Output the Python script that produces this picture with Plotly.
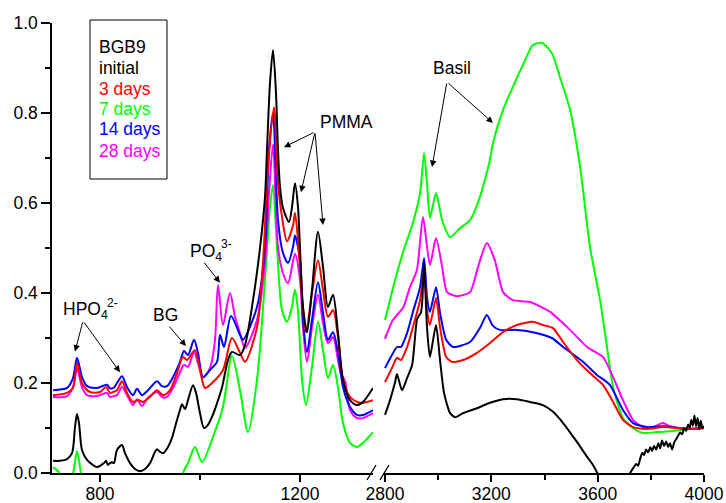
import plotly.graph_objects as go

# ---------------- spectra: fingerprint region (cm-1) ----------------
wn_init_lo = [706, 720, 734, 744, 750, 754, 758, 764, 774, 794, 800, 808, 812, 816, 820, 824, 828, 834, 844, 850,
              860, 870, 880, 890, 900, 910, 914, 920, 926, 936, 944, 952, 960, 964, 970, 976, 986, 992, 1000, 1008,
              1016, 1026, 1034, 1044, 1056, 1064, 1080, 1090, 1106, 1120, 1130, 1134, 1140, 1146, 1152, 1156, 1160,
              1166, 1178, 1184, 1190, 1196, 1200, 1206, 1214, 1224, 1236, 1246, 1256, 1266, 1276, 1286, 1300, 1314,
              1326, 1346]
ab_init_lo = [0.027, 0.027, 0.031, 0.044, 0.102, 0.131, 0.111, 0.051, 0.029, 0.013, 0.016, 0.022, 0.027, 0.018, 0.022,
              0.024, 0.022, 0.051, 0.062, 0.044, 0.022, 0.009, 0.004, 0.009, 0.022, 0.047, 0.053, 0.047, 0.044, 0.058,
              0.078, 0.110, 0.140, 0.153, 0.142, 0.162, 0.195, 0.178, 0.133, 0.100, 0.107, 0.130, 0.155, 0.190, 0.251,
              0.269, 0.262, 0.284, 0.384, 0.500, 0.613, 0.718, 0.867, 0.940, 0.844, 0.718, 0.636, 0.589, 0.558, 0.591,
              0.644, 0.591, 0.500, 0.369, 0.313, 0.407, 0.536, 0.458, 0.369, 0.396, 0.311, 0.207, 0.162, 0.151, 0.158,
              0.189]

wn_3d_lo = [706, 734, 746, 754, 764, 780, 800, 812, 820, 826, 834, 844, 854, 866, 876, 886, 900, 914, 926, 940, 954,
            966, 974, 990, 1000, 1010, 1026, 1046, 1064, 1080, 1090, 1114, 1126, 1136, 1148, 1156, 1164, 1174, 1186,
            1190, 1196, 1204, 1212, 1224, 1236, 1246, 1256, 1266, 1276, 1286, 1300, 1320, 1346]
ab_3d_lo = [0.173, 0.178, 0.189, 0.245, 0.200, 0.180, 0.180, 0.191, 0.178, 0.180, 0.184, 0.204, 0.178, 0.158, 0.162,
            0.158, 0.169, 0.184, 0.173, 0.184, 0.222, 0.258, 0.251, 0.273, 0.229, 0.189, 0.202, 0.229, 0.300, 0.267,
            0.247, 0.324, 0.467, 0.680, 0.813, 0.644, 0.569, 0.515, 0.550, 0.578, 0.518, 0.391, 0.313, 0.400, 0.473,
            0.407, 0.347, 0.362, 0.302, 0.207, 0.169, 0.156, 0.162]

wn_7d_lo = [706, 716, 726, 740, 746, 754, 762, 770, 780, 820, 880, 940, 964, 970, 976, 990, 1004, 1026, 1046, 1064,
            1080, 1096, 1114, 1130, 1140, 1146, 1154, 1164, 1174, 1184, 1190, 1196, 1204, 1212, 1224, 1236, 1246,
            1256, 1266, 1276, 1286, 1300, 1314, 1326, 1346]
ab_7d_lo = [0.013, 0.004, -0.010, -0.010, 0.000, 0.049, 0.000, -0.030, -0.050, -0.080, -0.100, -0.050, -0.005, 0.010,
            0.022, 0.058, 0.024, 0.080, 0.147, 0.260, 0.184, 0.091, 0.207, 0.429, 0.590, 0.640, 0.502, 0.362, 0.336,
            0.370, 0.407, 0.360, 0.207, 0.151, 0.236, 0.336, 0.273, 0.211, 0.240, 0.190, 0.111, 0.067, 0.058, 0.067,
            0.091]

wn_14d_lo = [706, 734, 746, 754, 764, 774, 794, 814, 820, 828, 834, 844, 854, 866, 874, 884, 896, 914, 924, 934, 946,
             960, 968, 976, 988, 996, 1006, 1020, 1034, 1040, 1048, 1062, 1080, 1086, 1114, 1130, 1138, 1146, 1156,
             1166, 1176, 1186, 1190, 1200, 1206, 1214, 1224, 1236, 1246, 1256, 1266, 1276, 1286, 1300, 1314, 1326,
             1346]
ab_14d_lo = [0.184, 0.189, 0.211, 0.256, 0.213, 0.193, 0.189, 0.196, 0.188, 0.190, 0.200, 0.215, 0.191, 0.173, 0.187,
             0.173, 0.184, 0.204, 0.193, 0.193, 0.213, 0.247, 0.271, 0.262, 0.296, 0.267, 0.213, 0.229, 0.247, 0.307,
             0.280, 0.349, 0.307, 0.296, 0.369, 0.500, 0.718, 0.800, 0.562, 0.489, 0.467, 0.502, 0.528, 0.473, 0.340,
             0.269, 0.340, 0.424, 0.356, 0.296, 0.313, 0.267, 0.191, 0.147, 0.129, 0.129, 0.140]

wn_28d_lo = [706, 734, 746, 754, 764, 774, 794, 814, 820, 828, 834, 844, 854, 866, 874, 884, 896, 914, 924, 934, 946,
             960, 968, 976, 988, 996, 1006, 1020, 1030, 1036, 1046, 1060, 1070, 1080, 1090, 1114, 1130, 1138, 1146,
             1156, 1166, 1176, 1190, 1200, 1206, 1214, 1224, 1236, 1246, 1256, 1266, 1276, 1282, 1290, 1300, 1314,
             1326, 1346]
ab_28d_lo = [0.169, 0.171, 0.191, 0.233, 0.191, 0.173, 0.171, 0.178, 0.169, 0.171, 0.173, 0.191, 0.173, 0.151, 0.164,
             0.149, 0.167, 0.180, 0.169, 0.169, 0.189, 0.224, 0.240, 0.236, 0.269, 0.244, 0.213, 0.233, 0.296, 0.418,
             0.329, 0.400, 0.347, 0.311, 0.278, 0.340, 0.467, 0.620, 0.730, 0.502, 0.444, 0.422, 0.487, 0.429, 0.324,
             0.247, 0.324, 0.396, 0.333, 0.289, 0.302, 0.250, 0.220, 0.205, 0.140, 0.122, 0.122, 0.133]

# ---------------- spectra: high-wavenumber region (cm-1) ----------------
wn_init_hi = [2800, 2819, 2838, 2845, 2864, 2883, 2902, 2920, 2928, 2935, 2940, 2947, 2958, 2969, 2992, 3007, 3022,
              3045, 3064, 3094, 3146, 3195, 3244, 3296, 3345, 3394, 3432, 3470, 3522, 3560, 3580, 3597, 3620, 3680,
              3715, 3725, 3735, 3745, 3752, 3760, 3768, 3775, 3782, 3790, 3798, 3805, 3812, 3820, 3828, 3835, 3842,
              3850, 3858, 3865, 3872, 3880, 3888, 3895, 3902, 3910, 3918, 3925, 3932, 3940, 3946, 3952, 3958, 3964,
              3970, 3976, 3982, 3988, 3994, 4000]
ab_init_hi = [0.129, 0.162, 0.202, 0.220, 0.184, 0.211, 0.240, 0.340, 0.350, 0.356, 0.380, 0.467, 0.324, 0.258, 0.329,
              0.251, 0.178, 0.133, 0.124, 0.133, 0.144, 0.156, 0.164, 0.164, 0.158, 0.151, 0.136, 0.111, 0.069, 0.036,
              0.020, 0.002, -0.030, -0.060, -0.010, 0.003, 0.012, 0.020, 0.016, 0.032, 0.045, 0.040, 0.052, 0.046,
              0.057, 0.049, 0.060, 0.052, 0.066, 0.055, 0.072, 0.060, 0.070, 0.058, 0.066, 0.052, 0.068, 0.075, 0.082,
              0.090, 0.086, 0.100, 0.094, 0.108, 0.100, 0.118, 0.105, 0.128, 0.104, 0.122, 0.098, 0.116, 0.100, 0.104]

wn_3d_hi = [2800, 2826, 2845, 2860, 2883, 2905, 2932, 2947, 2958, 2969, 2992, 3007, 3030, 3052, 3094, 3146, 3195,
            3244, 3296, 3356, 3394, 3432, 3470, 3522, 3571, 3620, 3658, 3695, 3733, 3786, 3846, 3936, 4000]
ab_3d_hi = [0.202, 0.233, 0.256, 0.251, 0.280, 0.324, 0.384, 0.451, 0.362, 0.329, 0.389, 0.324, 0.258, 0.247, 0.251,
            0.267, 0.289, 0.313, 0.329, 0.336, 0.329, 0.322, 0.291, 0.251, 0.222, 0.196, 0.158, 0.118, 0.102, 0.098,
            0.102, 0.098, 0.100]

wn_7d_hi = [2800, 2838, 2868, 2905, 2932, 2947, 2958, 2969, 2992, 3015, 3045, 3082, 3120, 3157, 3195, 3206, 3244,
            3281, 3319, 3356, 3390, 3428, 3458, 3496, 3534, 3571, 3609, 3635, 3658, 3695, 3733, 3770, 3823, 3872,
            3936, 4000]
ab_7d_hi = [0.340, 0.429, 0.491, 0.556, 0.622, 0.711, 0.644, 0.567, 0.622, 0.562, 0.524, 0.544, 0.562, 0.613, 0.696,
            0.733, 0.807, 0.858, 0.907, 0.951, 0.956, 0.933, 0.880, 0.807, 0.680, 0.502, 0.384, 0.280, 0.191, 0.122,
            0.100, 0.089, 0.091, 0.093, 0.097, 0.100]

wn_14d_hi = [2800, 2826, 2845, 2860, 2883, 2905, 2932, 2947, 2958, 2969, 2992, 3007, 3030, 3056, 3120, 3157, 3183,
             3206, 3233, 3296, 3356, 3428, 3470, 3545, 3597, 3646, 3695, 3733, 3786, 3846, 3936, 4000]
ab_14d_hi = [0.233, 0.262, 0.280, 0.280, 0.311, 0.358, 0.413, 0.478, 0.391, 0.358, 0.413, 0.356, 0.296, 0.280, 0.291,
             0.322, 0.351, 0.327, 0.318, 0.318, 0.313, 0.300, 0.280, 0.247, 0.218, 0.196, 0.140, 0.111, 0.102, 0.104,
             0.098, 0.100]

wn_28d_hi = [2800, 2826, 2845, 2868, 2894, 2920, 2943, 2969, 2992, 3015, 3033, 3071, 3120, 3150, 3183, 3213, 3244,
             3281, 3345, 3421, 3496, 3560, 3620, 3658, 3695, 3733, 3770, 3808, 3846, 3872, 3936, 4000]
ab_28d_hi = [0.298, 0.336, 0.351, 0.367, 0.413, 0.451, 0.569, 0.462, 0.522, 0.458, 0.402, 0.393, 0.402, 0.458, 0.511,
             0.473, 0.402, 0.384, 0.380, 0.358, 0.318, 0.280, 0.258, 0.213, 0.162, 0.118, 0.102, 0.102, 0.111, 0.104,
             0.098, 0.100]

series_names = ["initial", "3 days", "7 days", "14 days", "28 days"]
series_colors = ["#000000", "#ff0000", "#00ff00", "#0000ff", "#ff00ff"]
low_data = [(wn_init_lo, ab_init_lo), (wn_3d_lo, ab_3d_lo), (wn_7d_lo, ab_7d_lo),
            (wn_14d_lo, ab_14d_lo), (wn_28d_lo, ab_28d_lo)]
high_data = [(wn_init_hi, ab_init_hi), (wn_3d_hi, ab_3d_hi), (wn_7d_hi, ab_7d_hi),
             (wn_14d_hi, ab_14d_hi), (wn_28d_hi, ab_28d_hi)]

y_ticks = [0.0, 0.2, 0.4, 0.6, 0.8, 1.0]
x_ticks_lo = [800, 1200]
x_ticks_hi = [2800, 3200, 3600, 4000]

FONT = "Liberation Sans, Arial, sans-serif"
FS = 17.5

fig = go.Figure()
draw_order = [2, 4, 3, 1, 0]
for i in draw_order:
    x, y = low_data[i]
    fig.add_trace(go.Scatter(x=x, y=y, mode="lines", name=series_names[i], xaxis="x", yaxis="y",
                             line=dict(color=series_colors[i], width=2, shape="spline", smoothing=0.8)))
    x, y = high_data[i]
    fig.add_trace(go.Scatter(x=x, y=y, mode="lines", name=series_names[i], xaxis="x2", yaxis="y",
                             line=dict(color=series_colors[i], width=2, shape="spline", smoothing=0.6)))

L, R, T, B = 52, 22, 23, 30
W, H = 726, 503
PW, PH = W - L - R, H - T - B


def px(xp):
    return (xp - L) / PW


def py(yp):
    return (H - B - yp) / PH


axis_common = dict(showline=True, linecolor="black", linewidth=1.5, ticks="outside", tickcolor="black",
                   tickwidth=1.5, showgrid=False, zeroline=False, automargin=False,
                   tickfont=dict(family=FONT, size=FS, color="black"))

fig.update_layout(
    width=W, height=H, margin=dict(l=L, r=R, t=T, b=B, autoexpand=False),
    plot_bgcolor="white", paper_bgcolor="white", showlegend=False,
    font=dict(family=FONT, size=FS, color="black"),
    xaxis=dict(domain=[0, px(373)], range=[704, 1346], tickvals=x_ticks_lo, ticklen=7, ticklabelstandoff=-3,
               minor=dict(tickvals=[1000], ticklen=5, ticks="outside", tickcolor="black", tickwidth=1.5),
               anchor="y", **axis_common),
    xaxis2=dict(domain=[px(383), 1], range=[2792.5, 4000], tickvals=x_ticks_hi, ticklen=7, ticklabelstandoff=-3,
                minor=dict(tickvals=[3000, 3400, 3800], ticklen=5, ticks="outside", tickcolor="black",
                           tickwidth=1.5),
                anchor="y", **axis_common),
    yaxis=dict(domain=[0, 1], range=[0, 1.0], tickvals=y_ticks, ticktext=[f"{v:.1f}" for v in y_ticks],
               ticklen=9, minor=dict(tickvals=[0.1, 0.3, 0.5, 0.7, 0.9], ticklen=5, ticks="outside",
                                     tickcolor="black", tickwidth=1.5),
               anchor="x", **axis_common),
)

# axis break marks
for x0, x1 in [(367, 376), (380, 389)]:
    fig.add_shape(type="line", xref="paper", yref="paper", x0=px(x0), x1=px(x1), y0=py(480), y1=py(465),
                  line=dict(color="black", width=1.3))

# legend box with coloured captions
fig.add_shape(type="rect", xref="paper", yref="paper", x0=px(90), x1=px(167), y0=py(179), y1=py(20),
              line=dict(color="black", width=1), fillcolor="white", layer="below")
legend_rows = [("BGB9", "#000000", 47)] + [(n, c, yy) for n, c, yy in
                                           zip(series_names, series_colors, [68, 89, 109, 129, 151])]
for text, color, yy in legend_rows:
    fig.add_annotation(xref="paper", yref="paper", x=px(97), y=py(yy), text=text, showarrow=False,
                       xanchor="left", yanchor="middle", font=dict(family=FONT, size=FS, color=color))


def label(text, x, y, xref="x", size=FS):
    fig.add_annotation(xref=xref, yref="y", x=x, y=y, text=text, showarrow=False, xanchor="left",
                       yanchor="middle", font=dict(family=FONT, size=size, color="black"))


def arrow(x_tail, y_tail, x_tip, y_tip, xref="x"):
    fig.add_annotation(xref=xref, yref="y", axref=xref, ayref="y", x=x_tip, y=y_tip, ax=x_tail, ay=y_tail,
                       text="", showarrow=True, arrowhead=2, arrowsize=1.3, arrowwidth=1, arrowcolor="black",
                       standoff=0, startstandoff=0)


label("HPO<sub>4</sub>", 722, 0.362)
label("2-", 810, 0.378, size=12)
arrow(766, 0.338, 750, 0.27)
arrow(766, 0.338, 840, 0.224)

label("BG", 902, 0.351)
arrow(936, 0.329, 972, 0.282)

label("PO<sub>4</sub>", 976, 0.491)
label("3-", 1038, 0.509, size=12)
arrow(1006, 0.471, 1040, 0.423)

label("PMMA", 1236, 0.78)
arrow(1230, 0.758, 1168, 0.724)
arrow(1230, 0.758, 1202, 0.624)
arrow(1230, 0.758, 1246, 0.551)

label("Basil", 2972, 0.90, xref="x2")
arrow(3033, 0.869, 2977, 0.68, xref="x2")
arrow(3033, 0.869, 3206, 0.778, xref="x2")

fig.write_html("out.html")
